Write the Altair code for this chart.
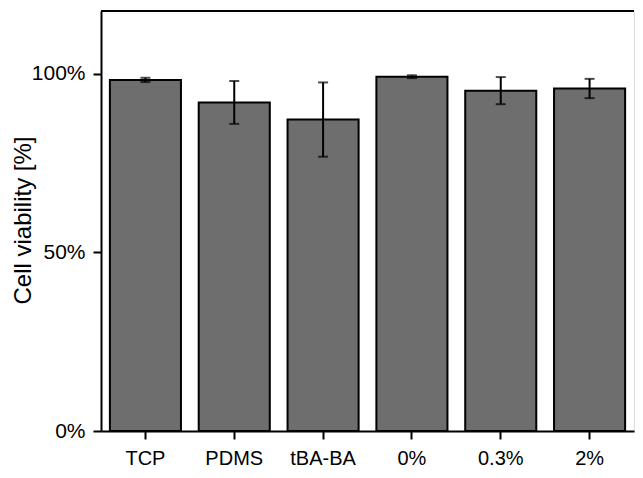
import altair as alt
import pandas as pd

groups = ["TCP", "PDMS", "tBA-BA", "0%", "0.3%", "2%"]
means = [98.3, 92.0, 87.2, 99.2, 95.3, 95.9]
errs = [0.6, 6.0, 10.4, 0.4, 3.8, 2.7]

df = pd.DataFrame({
    "group": groups,
    "mean": means,
    "lo": [m - e for m, e in zip(means, errs)],
    "hi": [m + e for m, e in zip(means, errs)],
})

W, H = 533, 420
FONT = "Liberation Sans"
xenc = alt.X(
    "group:N", sort=groups, title=None,
    scale=alt.Scale(paddingInner=0.2, paddingOuter=0.1),
    axis=alt.Axis(labelAngle=0, labelFontSize=20, labelFont=FONT, labelColor="black",
                  tickSize=8, tickWidth=2, tickColor="black", domainColor="black",
                  domainWidth=2, labelPadding=9),
)
yscale = alt.Scale(domain=[0, 117.6], nice=False, zero=True)

bars = alt.Chart(df).mark_bar(fill="#6e6e6e", stroke="black", strokeWidth=2).encode(
    x=xenc,
    y=alt.Y("mean:Q", scale=yscale, title="Cell viability [%]",
            axis=alt.Axis(values=[0, 50, 100], labelExpr="datum.value + '%'",
                          labelFontSize=21, labelFont=FONT, labelColor="black",
                          tickSize=8, tickWidth=2, tickColor="black",
                          domainColor="black", domainWidth=2, labelPadding=8,
                          grid=False, titleFont=FONT, titleFontSize=24,
                          titleFontWeight="normal", titleColor="black",
                          titleAngle=270, titleAlign="center",
                          titleBaseline="alphabetic", titleX=-71, titleY=209)),
)

rules = alt.Chart(df).mark_rule(color="black", strokeWidth=2).encode(
    x=alt.X("group:N", sort=groups),
    y=alt.Y("lo:Q", scale=yscale),
    y2="hi:Q",
)
caps_hi = alt.Chart(df).mark_tick(color="black", size=10, thickness=2).encode(
    x=alt.X("group:N", sort=groups),
    y=alt.Y("hi:Q", scale=yscale),
)
caps_lo = alt.Chart(df).mark_tick(color="black", size=10, thickness=2).encode(
    x=alt.X("group:N", sort=groups),
    y=alt.Y("lo:Q", scale=yscale),
)
top_border = alt.Chart(df).mark_rule(color="black", strokeWidth=2).encode(
    x=alt.value(0), x2=alt.value(W), y=alt.value(0)
)

chart = alt.layer(bars, rules, caps_hi, caps_lo, top_border).properties(
    width=W, height=H,
    autosize=alt.AutoSizeParams(type="none"),
    padding={"left": 93, "top": 3, "right": 1, "bottom": 38},
).configure_view(stroke="black", strokeWidth=2).configure(background="white")

chart.save("out.html", embed_options={"renderer": "svg", "actions": False})
